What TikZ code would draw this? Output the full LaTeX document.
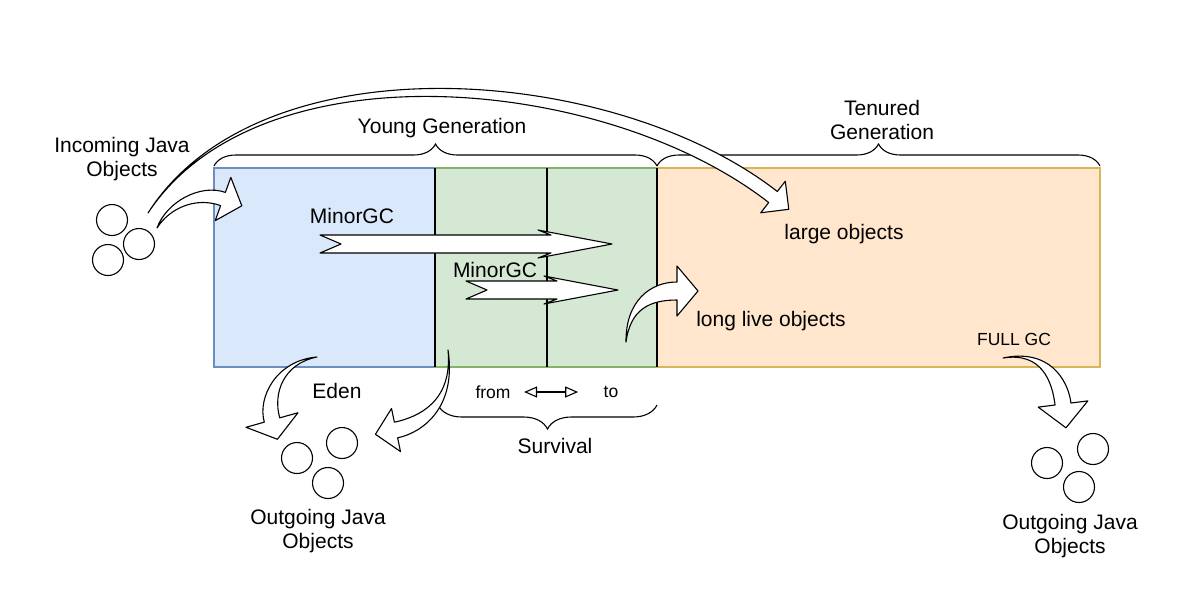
\documentclass[tikz,border=0pt]{standalone}
\usepackage{fontspec}
\setmainfont{Liberation Sans}
\usetikzlibrary{arrows.meta,calc,decorations.pathreplacing}

\definecolor{edenfill}{HTML}{DAE8FC}
\definecolor{edenline}{HTML}{6C8EBF}
\definecolor{survfill}{HTML}{D5E8D4}
\definecolor{survline}{HTML}{82B366}
\definecolor{tenfill}{HTML}{FFE6CC}
\definecolor{tenline}{HTML}{D6B656}

% bent flex arrow: tail, ctrl 1, ctrl 2, head base, half body, half head, head length
\newcommand{\bentarrow}[7]{%
  \filldraw[flex] (#1)
    .. controls ($(#2)!0.5*#5!-90:(#3)$) and ($(#3)!#5!-90:(#4)$) .. ($(#4)!#5!90:(#3)$)
    -- ($(#4)!#6!90:(#3)$) -- ($(#4)!#7!180:(#3)$) -- ($(#4)!#6!-90:(#3)$)
    -- ($(#4)!#5!-90:(#3)$)
    .. controls ($(#3)!#5!90:(#4)$) and ($(#2)!0.5*#5!90:(#3)$) .. (#1) -- cycle;}
% straight notched arrow: tail, tip
\newcommand{\gcarrow}[2]{%
  \filldraw[flex] ($(#1)+(0,-9)$) -- ($(#1)+(21,0)$) -- ($(#1)+(0,9)$)
    -- ($(#2)+(-61,9)$) -- ($(#2)+(-74,14)$) -- (#2) -- ($(#2)+(-74,-14)$)
    -- ($(#2)+(-61,-9)$) -- cycle;}

\begin{document}
\begin{tikzpicture}[x=1pt,y=-1pt,line width=1.1pt,
  lbl/.style={font=\fontsize{21}{24}\selectfont,inner sep=0pt,align=center},
  small/.style={font=\fontsize{17.5}{20}\selectfont,inner sep=0pt},
  ball/.style={draw,circle,minimum size=31pt,inner sep=0pt},
  flex/.style={draw=black,fill=white,line join=round},
  brace/.style={decorate,decoration={brace,amplitude=#1}},
  brace/.default=22pt]
  \useasboundingbox (0,0) rectangle (1188,614);

  % heap regions
  \filldraw[fill=edenfill,draw=edenline] (214,168) rectangle (435,367);
  \filldraw[fill=survfill,draw=survline] (435,168) rectangle (657,367);
  \filldraw[fill=tenfill,draw=tenline] (657,168) rectangle (1100,367);
  \draw (435,168) -- (435,367);
  \draw (547,168) -- (547,367);
  \draw (657,168) -- (657,367);

  % braces
  \draw[brace] (214,166) -- (657,166);
  \draw[brace] (657,166) -- (1100,166);
  \draw[brace=24pt] (657,405) -- (438,405);

  % labels
  \node[lbl] (young) at (442,128) {Young Generation};
  \node[lbl] (tenured) at (882,120) {Tenured\\Generation};
  \node[lbl] (incoming) at (122,159) {Incoming Java\\Objects};
  \node[lbl] (eden) at (337,391) {Eden};
  \node[small] (from) at (493,392) {from};
  \node[small] (to) at (611,392) {to};
  \node[lbl] (survival) at (555,446) {Survival};
  \node[lbl] (mgc1) at (352,216) {MinorGC};
  \node[lbl] (mgc2) at (495,270) {MinorGC};
  \node[lbl] (large) at (844,234) {large objects};
  \node[lbl] (longlive) at (771,321) {long live objects};
  \node[small] (fullgc) at (1014,339) {FULL GC};
  \node[lbl] (outL) at (318,531) {Outgoing Java\\Objects};
  \node[lbl] (outR) at (1070,536) {Outgoing Java\\Objects};

  \draw[{Triangle[open,length=13pt,width=11pt]}-{Triangle[open,length=13pt,width=11pt]},
    shorten <=13pt,shorten >=25pt] (from.east) -- (to.west);

  % objects
  \node[ball] (in1) at (112,220) {};
  \node[ball] (in2) at (139,244) {};
  \node[ball] (in3) at (108,260) {};
  \node[ball] (ol1) at (297,458) {};
  \node[ball] (ol2) at (342,443) {};
  \node[ball] (ol3) at (328,483) {};
  \node[ball] (or1) at (1047,463) {};
  \node[ball] (or2) at (1093,449) {};
  \node[ball] (or3) at (1079,487) {};

  % minor gc moves
  \coordinate (g1s) at (320,244); \coordinate (g1t) at (612,244);
  \coordinate (g2s) at (466,290); \coordinate (g2t) at (618,290);
  \gcarrow{g1s}{g1t}
  \gcarrow{g2s}{g2t}

  % incoming into eden
  \coordinate (a1) at (157,228); \coordinate (a1c) at (168,205);
  \coordinate (a1d) at (198,190); \coordinate (a1e) at (223,199);
  \bentarrow{a1}{a1c}{a1d}{a1e}{7pt}{23pt}{20pt}
  % large objects straight to tenured
  \coordinate (a2) at (148,213); \coordinate (a2c) at (260,40);
  \coordinate (a2d) at (610,70); \coordinate (a2e) at (773,197);
  \bentarrow{a2}{a2c}{a2d}{a2e}{7pt}{20pt}{20pt}
  % long live objects
  \coordinate (a3) at (626,342); \coordinate (a3c) at (628,305);
  \coordinate (a3d) at (650,291); \coordinate (a3e) at (677,291);
  \bentarrow{a3}{a3c}{a3d}{a3e}{9pt}{25pt}{21pt}
  % out of eden
  \coordinate (a4) at (317,357); \coordinate (a4c) at (280,362);
  \coordinate (a4d) at (265,395); \coordinate (a4e) at (272,420);
  \bentarrow{a4}{a4c}{a4d}{a4e}{8pt}{27pt}{20pt}
  % out of survival
  \coordinate (a5) at (448,350); \coordinate (a5c) at (455,405);
  \coordinate (a5d) at (420,425); \coordinate (a5e) at (396,430);
  \bentarrow{a5}{a5c}{a5d}{a5e}{8pt}{22pt}{21pt}
  % full gc
  \coordinate (a6) at (1003,358); \coordinate (a6c) at (1045,350);
  \coordinate (a6d) at (1060,380); \coordinate (a6e) at (1063,404);
  \bentarrow{a6}{a6c}{a6d}{a6e}{8pt}{25pt}{24pt}
\end{tikzpicture}
\end{document}
